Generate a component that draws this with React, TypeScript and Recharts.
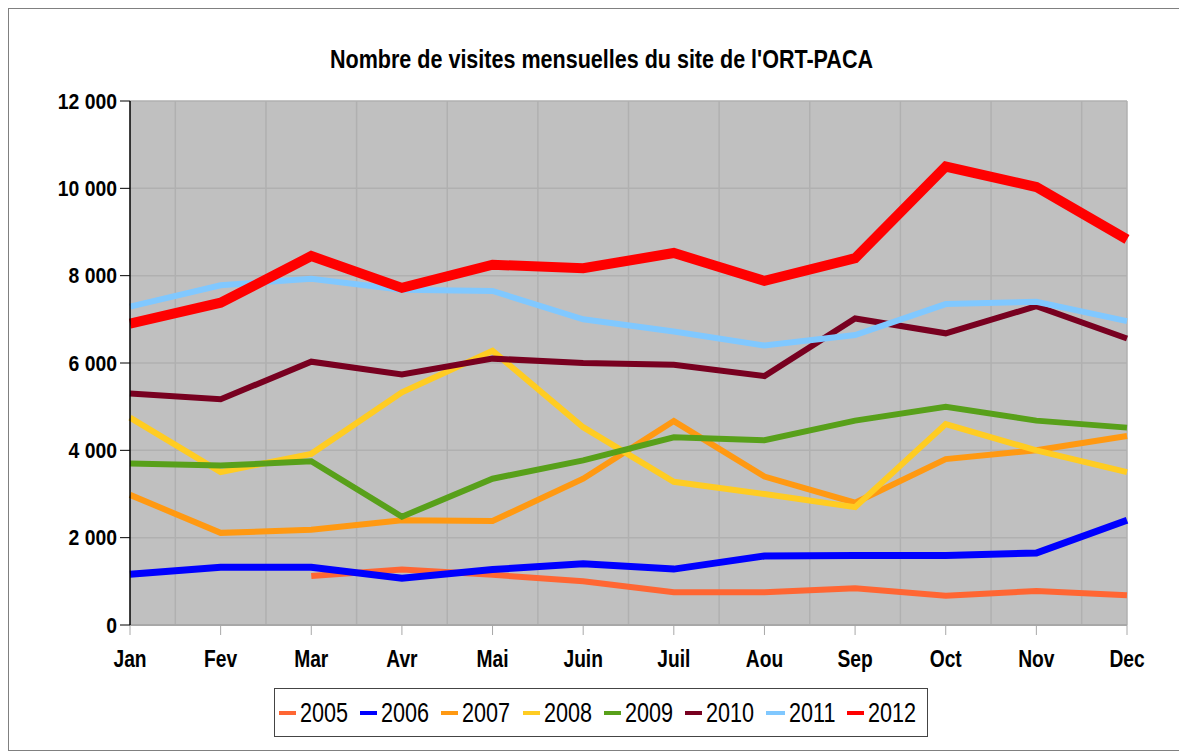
import { CartesianGrid, Legend, Line, LineChart, XAxis, YAxis } from "recharts";

const months = ["Jan", "Fev", "Mar", "Avr", "Mai", "Juin", "Juil", "Aou", "Sep", "Oct", "Nov", "Dec"];
const years = ["2005", "2006", "2007", "2008", "2009", "2010", "2011", "2012"];

const v2005 = [null, null, 1120, 1270, 1150, 1000, 750, 750, 840, 670, 780, 680];
const v2006 = [1160, 1320, 1320, 1070, 1270, 1400, 1280, 1580, 1590, 1590, 1650, 2400];
const v2007 = [2980, 2110, 2180, 2400, 2380, 3350, 4670, 3400, 2800, 3800, 4000, 4330];
const v2008 = [4750, 3500, 3920, 5330, 6280, 4530, 3280, 3000, 2700, 4600, 4000, 3500];
const v2009 = [3700, 3650, 3750, 2480, 3350, 3770, 4300, 4230, 4680, 5000, 4680, 4520];
const v2010 = [5300, 5170, 6030, 5740, 6100, 6000, 5960, 5700, 7020, 6680, 7300, 6560];
const v2011 = [7290, 7780, 7930, 7680, 7650, 7000, 6720, 6400, 6640, 7350, 7400, 6960];
const v2012 = [6900, 7380, 8450, 7720, 8250, 8170, 8520, 7880, 8400, 10500, 10030, 8830];

const yTicks = [0, 2000, 4000, 6000, 8000, 10000, 12000];

const values = [v2005, v2006, v2007, v2008, v2009, v2010, v2011, v2012];
const colors = ["#ff6633", "#0000ff", "#ff9912", "#ffcc22", "#58a01a", "#780020", "#80c8ff", "#ff0000"];
const widths = [6, 7, 6, 6, 6, 6, 6, 10];

const data = months.map((month, i) => {
  const row: Record<string, string | number | null> = { month };
  years.forEach((y, s) => {
    row[y] = values[s][i];
  });
  return row;
});

// no Arial Narrow here: Liberation Sans squeezed horizontally
const FONT = '"Liberation Sans", Arial, sans-serif';

const fmt = (v: number) => String(v).replace(/\B(?=(\d{3})+(?!\d))/g, " ");

// gridlines sit between the month ticks, as in the spreadsheet chart
const betweenTicks = ({ offset }: any) => {
  const step = offset.width / (months.length - 1);
  const xs = months.slice(1).map((_, i) => offset.left + (i + 0.5) * step);
  return [...xs, offset.left + offset.width];
};

function XTick({ x, y, payload }: any) {
  return (
    <g transform={`translate(${x},${y})`}>
      <text transform="scale(0.8,1)" textAnchor="middle" dy="0.71em" fill="#000" fontFamily={FONT} fontWeight="bold" fontSize={24}>
        {payload.value}
      </text>
    </g>
  );
}

function YTick({ x, y, payload }: any) {
  return (
    <g transform={`translate(${x},${y})`}>
      <text transform="scale(0.88,1)" textAnchor="end" dy="0.355em" fill="#000" fontFamily={FONT} fontWeight="bold" fontSize={22}>
        {fmt(payload.value)}
      </text>
    </g>
  );
}

function LegendBox({ payload }: any) {
  return (
    <div
      style={{
        display: "flex",
        alignItems: "center",
        height: 49,
        paddingLeft: 4,
        boxSizing: "border-box",
        border: "1px solid #444",
        background: "#fff",
        fontFamily: FONT,
        fontSize: 27,
        color: "#000",
      }}
    >
      {(payload || []).map((p: any) => (
        <div key={p.value} style={{ display: "flex", alignItems: "center", width: 81.2, flex: "none" }}>
          <span style={{ display: "inline-block", width: 20, height: 4, background: p.color, marginRight: 4 }} />
          <span style={{ display: "inline-block", transform: "scaleX(0.8)", transformOrigin: "left center", lineHeight: "30px" }}>
            {p.value}
          </span>
        </div>
      ))}
    </div>
  );
}

export default function App() {
  return (
    <div
      style={{
        position: "relative",
        width: 1179,
        height: 743,
        boxSizing: "border-box",
        border: "1px solid #808080",
        background: "#fff",
      }}
    >
      <svg width={1177} height={80} style={{ position: "absolute", top: 0, left: 0 }}>
        <text
          x={321}
          y={59}
          textLength={543}
          lengthAdjust="spacingAndGlyphs"
          fill="#000"
          fontFamily={FONT}
          fontWeight="bold"
          fontSize={25}
        >
          Nombre de visites mensuelles du site de l'ORT-PACA
        </text>
      </svg>
      <LineChart width={1177} height={741} data={data} margin={{ top: 92, right: 59, left: 0, bottom: 85 }}>
        <CartesianGrid fill="#c0c0c0" stroke="#b0b0b0" strokeWidth={1.5} verticalCoordinatesGenerator={betweenTicks} />
        <XAxis
          dataKey="month"
          interval={0}
          height={40}
          tickSize={10}
          tickMargin={15}
          axisLine={{ stroke: "#a8a8a8", strokeWidth: 2 }}
          tickLine={{ stroke: "#a8a8a8" }}
          tick={<XTick />}
        />
        <YAxis
          domain={[0, 12000]}
          ticks={yTicks}
          width={121}
          tickSize={10}
          tickMargin={3}
          axisLine={{ stroke: "#000", strokeWidth: 1.5 }}
          tickLine={{ stroke: "#000" }}
          tick={<YTick />}
        />
        <Legend
          layout="horizontal"
          verticalAlign="middle"
          align="center"
          wrapperStyle={{ top: 679, left: 265, width: 654 }}
          content={<LegendBox />}
        />
        {years.map((y, s) => (
          <Line
            key={y}
            type="linear"
            dataKey={y}
            stroke={colors[s]}
            strokeWidth={widths[s]}
            dot={false}
            activeDot={false}
            isAnimationActive={false}
          />
        ))}
      </LineChart>
    </div>
  );
}
